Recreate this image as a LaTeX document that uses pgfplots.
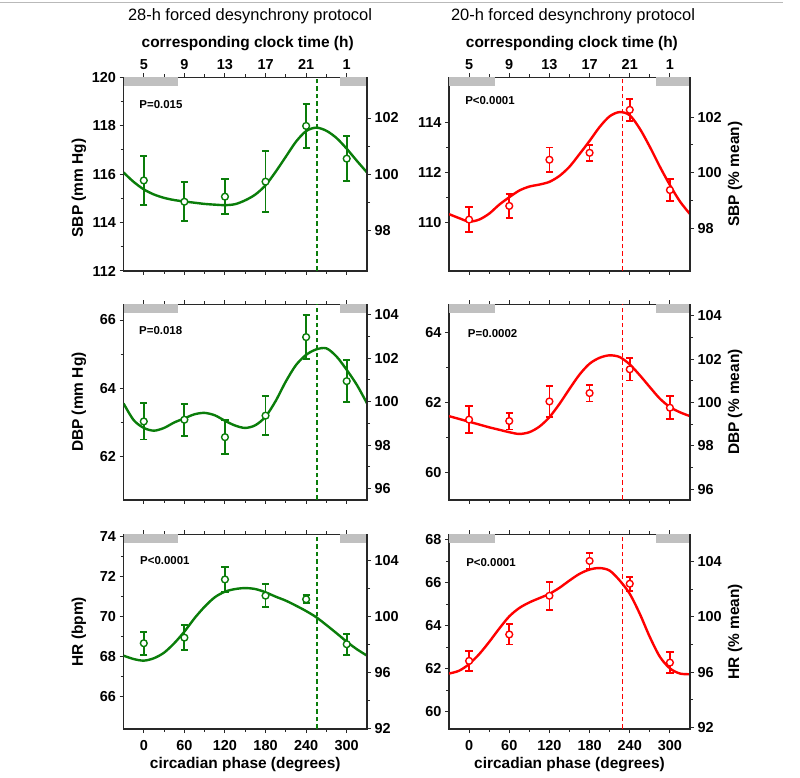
\documentclass[border=0pt]{standalone}
\usepackage{fontspec}
\setmainfont{Liberation Sans}
\usepackage{pgfplots}
\pgfplotsset{compat=1.18}
\definecolor{dgreen}{RGB}{10,125,10}
\definecolor{dred}{RGB}{255,0,0}
\definecolor{axcol}{RGB}{40,40,40}
\definecolor{barcol}{RGB}{192,192,192}
\newcommand{\tickfont}{\fontsize{14.5}{16}\selectfont\bfseries}
\newcommand{\labfont}{\fontsize{15.5}{17}\selectfont\bfseries}
\newcommand{\pfont}{\fontsize{11.5}{13}\selectfont\bfseries}
\pgfplotsset{
  panel/.style={
    scale only axis, anchor=south west,
    xmin=-30, xmax=330, xtick={0,60,120,180,240,300}, minor x tick num=1,
    minor y tick num=1,
    tick align=outside, major tick length=4bp, minor tick length=3bp,
    axis line style={line width=1.1bp, axcol},
    every tick/.style={line width=1bp, axcol},
    tick label style={font=\tickfont, text=black},
    /pgf/number format/assume math mode=true,
    label style={font=\labfont},
  },
  mainpanel/.style={panel, ytick pos=left, xtick pos=both,
    ylabel style={at={(rel axis cs:-0.183,0.5)}, anchor=center}},
  rightpanel/.style={panel, axis x line=none, axis y line*=right, ytick pos=right,
    ylabel style={at={(rel axis cs:1.187,0.5)}, anchor=center}},
  toprow/.style={xticklabel pos=right, xtick pos=both, xticklabels={5,9,13,17,21,1},
    xlabel={corresponding clock time (h)},
    xlabel style={at={(rel axis cs:0.51,1)}, anchor=base, yshift=29.6bp}},
  midrow/.style={xticklabels={}},
  botrow/.style={xticklabel pos=left, xtick pos=both, xlabel={circadian phase (degrees)},
    xticklabel style={yshift=-4bp},
    xlabel style={at={(rel axis cs:0.5,0)}, anchor=base, yshift=-39.5bp}},
  fitcurve/.style={smooth, line width=2.4bp, no marks},
  pts/.style={only marks, mark=*, mark size=3.4bp, mark options={fill=white, line width=1.4bp, solid},
    error bars/.cd, y dir=both, y explicit,
    error bar style={line width=1.8bp},
    error mark options={rotate=90, mark size=3.6bp, line width=1.8bp}},
  dashv/.style={line width=1.15bp, dash pattern=on 4.5bp off 3bp},
}
\begin{document}
\begin{tikzpicture}
\useasboundingbox (0,0) rectangle (800bp,778bp);
\draw[gray!55, line width=1.2bp] (0,775.5bp) -- (783bp,775.5bp);
\node[anchor=base, font=\fontsize{16.5}{18}\selectfont] at (250bp,757.3bp) {28-h forced desynchrony protocol};
\node[anchor=base, font=\fontsize{16.5}{18}\selectfont] at (573bp,757.3bp) {20-h forced desynchrony protocol};
\node[rotate=90, anchor=center, font=\labfont] at (79bp,590bp) {SBP (mm Hg)};

% ---------- Row 1 left: SBP 28h ----------
\begin{axis}[mainpanel, toprow, at={(123.5bp,507bp)}, width=243.5bp, height=193.7bp,
  ymin=112, ymax=120, ytick={112,114,116,118,120}]
\fill[barcol] (rel axis cs:0,0.955) rectangle (rel axis cs:0.2222,1);
\fill[barcol] (rel axis cs:0.8889,0.955) rectangle (rel axis cs:1,1);
\addplot[dgreen, dashv] coordinates {(256,112) (256,120)};
\addplot[dgreen, fitcurve] coordinates {(-30,116.07)(-15,115.68)(0,115.37)(15,115.16)(30,115.02)(45,114.93)(60,114.87)(75,114.82)(90,114.77)(105,114.74)(120,114.72)(135,114.76)(150,114.92)(165,115.16)(180,115.54)(195,116.1)(210,116.72)(225,117.34)(240,117.78)(255,117.92)(270,117.79)(285,117.49)(300,117.05)(315,116.55)(330,116.07)};
\addplot[dgreen, pts] coordinates {(0,115.74) +- (0,1.01) (60,114.86) +- (0,0.8) (120,115.07) +- (0,0.72) (180,115.69) +- (0,1.25) (240,117.99) +- (0,0.92) (300,116.64) +- (0,0.92)};
\node[anchor=west, font=\pfont] at (rel axis cs:0.051,0.861) {P=0.015};
\end{axis}
\begin{axis}[rightpanel, at={(123.5bp,507bp)}, width=243.5bp, height=193.7bp,
  ymin=96.55, ymax=103.45, ytick={98,100,102}]
\end{axis}

% ---------- Row 1 right: SBP 20h ----------
\begin{axis}[mainpanel, toprow, at={(449bp,507bp)}, width=241bp, height=193.7bp,
  ymin=108.04, ymax=115.84, ytick={110,112,114}]
\fill[barcol] (rel axis cs:0,0.955) rectangle (rel axis cs:0.1903,1);
\fill[barcol] (rel axis cs:0.8569,0.955) rectangle (rel axis cs:1,1);
\addplot[dred, dashv] coordinates {(229,108.04) (229,115.84)};
\addplot[dred, fitcurve] coordinates {(-30,110.33)(-15,110.17)(0,110.03)(15,110.11)(30,110.35)(45,110.71)(60,111.01)(75,111.28)(90,111.44)(105,111.52)(120,111.63)(135,111.87)(150,112.24)(165,112.75)(180,113.28)(195,113.84)(210,114.27)(225,114.44)(240,114.31)(255,113.77)(270,113.04)(285,112.24)(300,111.5)(315,110.84)(330,110.33)};
\addplot[dred, pts] coordinates {(0,110.11) +- (0,0.5) (60,110.66) +- (0,0.49) (120,112.52) +- (0,0.49) (180,112.8) +- (0,0.32) (240,114.53) +- (0,0.45) (300,111.3) +- (0,0.45)};
\node[anchor=west, font=\pfont] at (rel axis cs:0.053,0.882) {P<0.0001};
\end{axis}
\begin{axis}[rightpanel, at={(449bp,507bp)}, width=241bp, height=193.7bp,
  ymin=96.46, ymax=103.43, ytick={98,100,102}, ylabel={SBP (\% mean)}]
\end{axis}

% ---------- Row 2 left: DBP 28h ----------
\begin{axis}[mainpanel, midrow, at={(123.5bp,278bp)}, width=243.5bp, height=195.7bp,
  ymin=60.73, ymax=66.46, ytick={62,64,66}, ylabel={DBP (mm Hg)}]
\fill[barcol] (rel axis cs:0,0.955) rectangle (rel axis cs:0.2222,1);
\fill[barcol] (rel axis cs:0.8889,0.955) rectangle (rel axis cs:1,1);
\addplot[dgreen, dashv] coordinates {(256,60.73) (256,66.46)};
\addplot[dgreen, fitcurve] coordinates {(-30,63.56)(-15,63.07)(0,62.84)(15,62.76)(30,62.84)(45,63.0)(60,63.12)(75,63.24)(90,63.28)(105,63.21)(120,63.05)(135,62.91)(150,62.84)(165,62.92)(180,63.17)(195,63.63)(210,64.2)(225,64.68)(240,64.98)(255,65.14)(270,65.17)(285,64.93)(300,64.54)(315,64.1)(330,63.56)};
\addplot[dgreen, pts] coordinates {(0,63.03) +- (0,0.53) (60,63.08) +- (0,0.47) (120,62.57) +- (0,0.5) (180,63.2) +- (0,0.57) (240,65.5) +- (0,0.65) (300,64.21) +- (0,0.62)};
\node[anchor=west, font=\pfont] at (rel axis cs:0.05,0.865) {P=0.018};
\end{axis}
\begin{axis}[rightpanel, at={(123.5bp,278bp)}, width=243.5bp, height=195.7bp,
  ymin=95.47, ymax=104.48, ytick={96,98,100,102,104}]
\end{axis}

% ---------- Row 2 right: DBP 20h ----------
\begin{axis}[mainpanel, midrow, at={(449bp,278bp)}, width=241bp, height=195.7bp,
  ymin=59.21, ymax=64.81, ytick={60,62,64}]
\fill[barcol] (rel axis cs:0,0.955) rectangle (rel axis cs:0.1903,1);
\fill[barcol] (rel axis cs:0.8569,0.955) rectangle (rel axis cs:1,1);
\addplot[dred, dashv] coordinates {(229,59.21) (229,64.81)};
\addplot[dred, fitcurve] coordinates {(-30,61.61)(-15,61.53)(0,61.45)(15,61.37)(30,61.29)(45,61.22)(60,61.15)(75,61.1)(90,61.15)(105,61.31)(120,61.58)(135,61.96)(150,62.39)(165,62.8)(180,63.11)(195,63.28)(210,63.35)(225,63.3)(240,63.09)(255,62.78)(270,62.44)(285,62.11)(300,61.87)(315,61.72)(330,61.61)};
\addplot[dred, pts] coordinates {(0,61.51) +- (0,0.38) (60,61.47) +- (0,0.24) (120,62.03) +- (0,0.45) (180,62.27) +- (0,0.24) (240,62.95) +- (0,0.32) (300,61.85) +- (0,0.33)};
\node[anchor=west, font=\pfont] at (rel axis cs:0.064,0.849) {P=0.0002};
\end{axis}
\begin{axis}[rightpanel, at={(449bp,278bp)}, width=241bp, height=195.7bp,
  ymin=95.5, ymax=104.53, ytick={96,98,100,102,104}, ylabel={DBP (\% mean)}]
\end{axis}

% ---------- Row 3 left: HR 28h ----------
\begin{axis}[mainpanel, botrow, at={(123.5bp,49bp)}, width=243.5bp, height=194.7bp,
  ymin=64.38, ymax=74.12, ytick={66,68,70,72,74}, ylabel={HR (bpm)}]
\fill[barcol] (rel axis cs:0,0.955) rectangle (rel axis cs:0.2222,1);
\fill[barcol] (rel axis cs:0.8889,0.955) rectangle (rel axis cs:1,1);
\addplot[dgreen, dashv] coordinates {(256,64.38) (256,74.12)};
\addplot[dgreen, fitcurve] coordinates {(-30,68.05)(-15,67.88)(0,67.8)(15,67.92)(30,68.2)(45,68.67)(60,69.25)(75,69.92)(90,70.5)(105,70.97)(120,71.25)(135,71.38)(150,71.43)(165,71.38)(180,71.22)(195,71.0)(210,70.8)(225,70.55)(240,70.28)(255,69.97)(270,69.58)(285,69.17)(300,68.75)(315,68.37)(330,68.05)};
\addplot[dgreen, pts] coordinates {(0,68.67) +- (0,0.57) (60,68.95) +- (0,0.62) (120,71.86) +- (0,0.64) (180,71.05) +- (0,0.57) (240,70.87) +- (0,0.2) (300,68.62) +- (0,0.52)};
\node[anchor=west, font=\pfont] at (rel axis cs:0.054,0.864) {P<0.0001};
\end{axis}
\begin{axis}[rightpanel, at={(123.5bp,49bp)}, width=243.5bp, height=194.7bp,
  ymin=91.97, ymax=105.89, ytick={92,96,100,104}]
\end{axis}

% ---------- Row 3 right: HR 20h ----------
\begin{axis}[mainpanel, botrow, at={(449bp,49bp)}, width=241bp, height=194.7bp,
  ymin=59.2, ymax=68.26, ytick={60,62,64,66,68}]
\fill[barcol] (rel axis cs:0,0.955) rectangle (rel axis cs:0.1903,1);
\fill[barcol] (rel axis cs:0.8569,0.955) rectangle (rel axis cs:1,1);
\addplot[dred, dashv] coordinates {(229,59.2) (229,68.26)};
\addplot[dred, fitcurve] coordinates {(-30,61.78)(-15,61.91)(0,62.22)(15,62.68)(30,63.25)(45,63.87)(60,64.44)(75,64.83)(90,65.09)(105,65.29)(120,65.49)(135,65.77)(150,66.11)(165,66.42)(180,66.62)(195,66.69)(210,66.57)(225,66.11)(240,65.49)(255,64.56)(270,63.48)(285,62.56)(300,62.02)(315,61.78)(330,61.75)};
\addplot[dred, pts] coordinates {(0,62.37) +- (0,0.46) (60,63.6) +- (0,0.47) (120,65.4) +- (0,0.65) (180,67.02) +- (0,0.37) (240,65.96) +- (0,0.32) (300,62.29) +- (0,0.48)};
\node[anchor=west, font=\pfont] at (rel axis cs:0.057,0.854) {P<0.0001};
\end{axis}
\begin{axis}[rightpanel, at={(449bp,49bp)}, width=241bp, height=194.7bp,
  ymin=91.9, ymax=105.96, ytick={92,96,100,104}, ylabel={HR (\% mean)}]
\end{axis}
\end{tikzpicture}
\end{document}
